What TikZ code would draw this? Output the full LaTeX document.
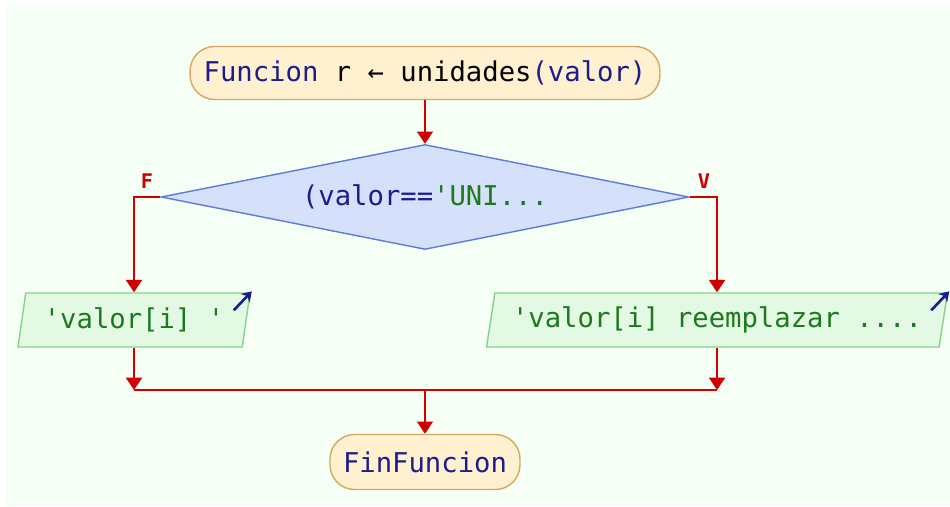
\documentclass[tikz,border=0pt]{standalone}
\usepackage{fontspec}
\usepackage{xcolor}
\usepackage{tikz}
\usetikzlibrary{shapes,arrows.meta,positioning}
\newfontfamily\psfont{DejaVu Sans Mono}
\definecolor{fondo}{HTML}{F5FFF5}
\definecolor{termfill}{HTML}{FFF1CF}
\definecolor{termdraw}{HTML}{D6A85E}
\definecolor{decfill}{HTML}{D5E1FA}
\definecolor{decdraw}{HTML}{5C7CD8}
\definecolor{salfill}{HTML}{E3F9E3}
\definecolor{saldraw}{HTML}{86D486}
\definecolor{rojo}{HTML}{D00000}
\definecolor{azul}{HTML}{1C1C8E}
\definecolor{verde}{HTML}{1C7A1C}
\newcommand{\bfs}{\psfont\fontsize{15.5}{18}\selectfont}

\begin{document}
\begin{tikzpicture}[x=0.02cm, y=-0.02cm,
                          terminal/.style={draw=termdraw, fill=termfill, line width=0.8pt,
                                           rounded corners=14pt, inner sep=0pt, font=\bfs},
                          decision/.style={diamond, draw=decdraw, fill=decfill, line width=0.8pt,
                                           aspect=5, inner sep=0pt, font=\bfs},
                          salida/.style={trapezium, trapezium left angle=72.5, trapezium right angle=107.5,
                                         trapezium stretches body, draw=saldraw, fill=salfill,
                                         line width=0.8pt, inner sep=0pt, minimum height=1.08cm,
                                         font=\bfs, text=verde},
                          flecha/.style={rojo, line width=1.4pt, -{Triangle[width=9pt,length=7pt]}},
                          linea/.style={rojo, line width=1.4pt},
                          etiq/.style={rojo, font=\psfont\bfseries\fontsize{11.5}{13}\selectfont},
                          icono/.style={azul, line width=1.5pt, -{Stealth[width=7pt,length=5.5pt]}},
                         ]

\useasboundingbox (0,0) rectangle (950,507);
\fill[fondo] (6,5) rectangle (950,506);

\node[terminal, minimum width=9.4cm, minimum height=1.06cm] (inicio) at (425,73)
     {\textcolor{azul}{Funcion} r ← unidades\textcolor{azul}{(valor)}};
\node[decision, minimum width=10.56cm, minimum height=2.1cm] (cond) at (425,197)
     {\textcolor{azul}{(valor==}\textcolor{verde}{'UNI...}};
\node[salida, minimum width=4.64cm] (izq) at (134,320) {'valor[i] '};
\node[salida, minimum width=9.22cm] (der) at (717,320) {'valor[i] reemplazar ....};
\node[terminal, minimum width=3.8cm, minimum height=1.1cm, text=azul] (fin) at (425,462) {FinFuncion};

\node[etiq] (lblF) at (147,181) {F};
\node[etiq] (lblV) at (704,181) {V};

\coordinate (juntaI) at (izq.south |- 0,390);
\coordinate (juntaD) at (der.south |- 0,390);
\coordinate (juntaC) at (fin.north |- 0,390);

\draw[flecha] (inicio.south) -- (cond.north);
\draw[flecha] (cond.west) -| (izq.north);
\draw[flecha] (cond.east) -| (der.north);
\draw[flecha] (izq.south) -- (juntaI);
\draw[flecha] (der.south) -- (juntaD);
\draw[linea] (juntaI) -- (juntaD);
\draw[flecha] (juntaC) -- (fin.north);

% salida por pantalla
\draw[icono] ([shift={(-17,18)}]izq.top right corner) -- ([shift={(1,-1)}]izq.top right corner);
\draw[icono] ([shift={(-17,18)}]der.top right corner) -- ([shift={(1,-1)}]der.top right corner);

\end{tikzpicture}
\end{document}
